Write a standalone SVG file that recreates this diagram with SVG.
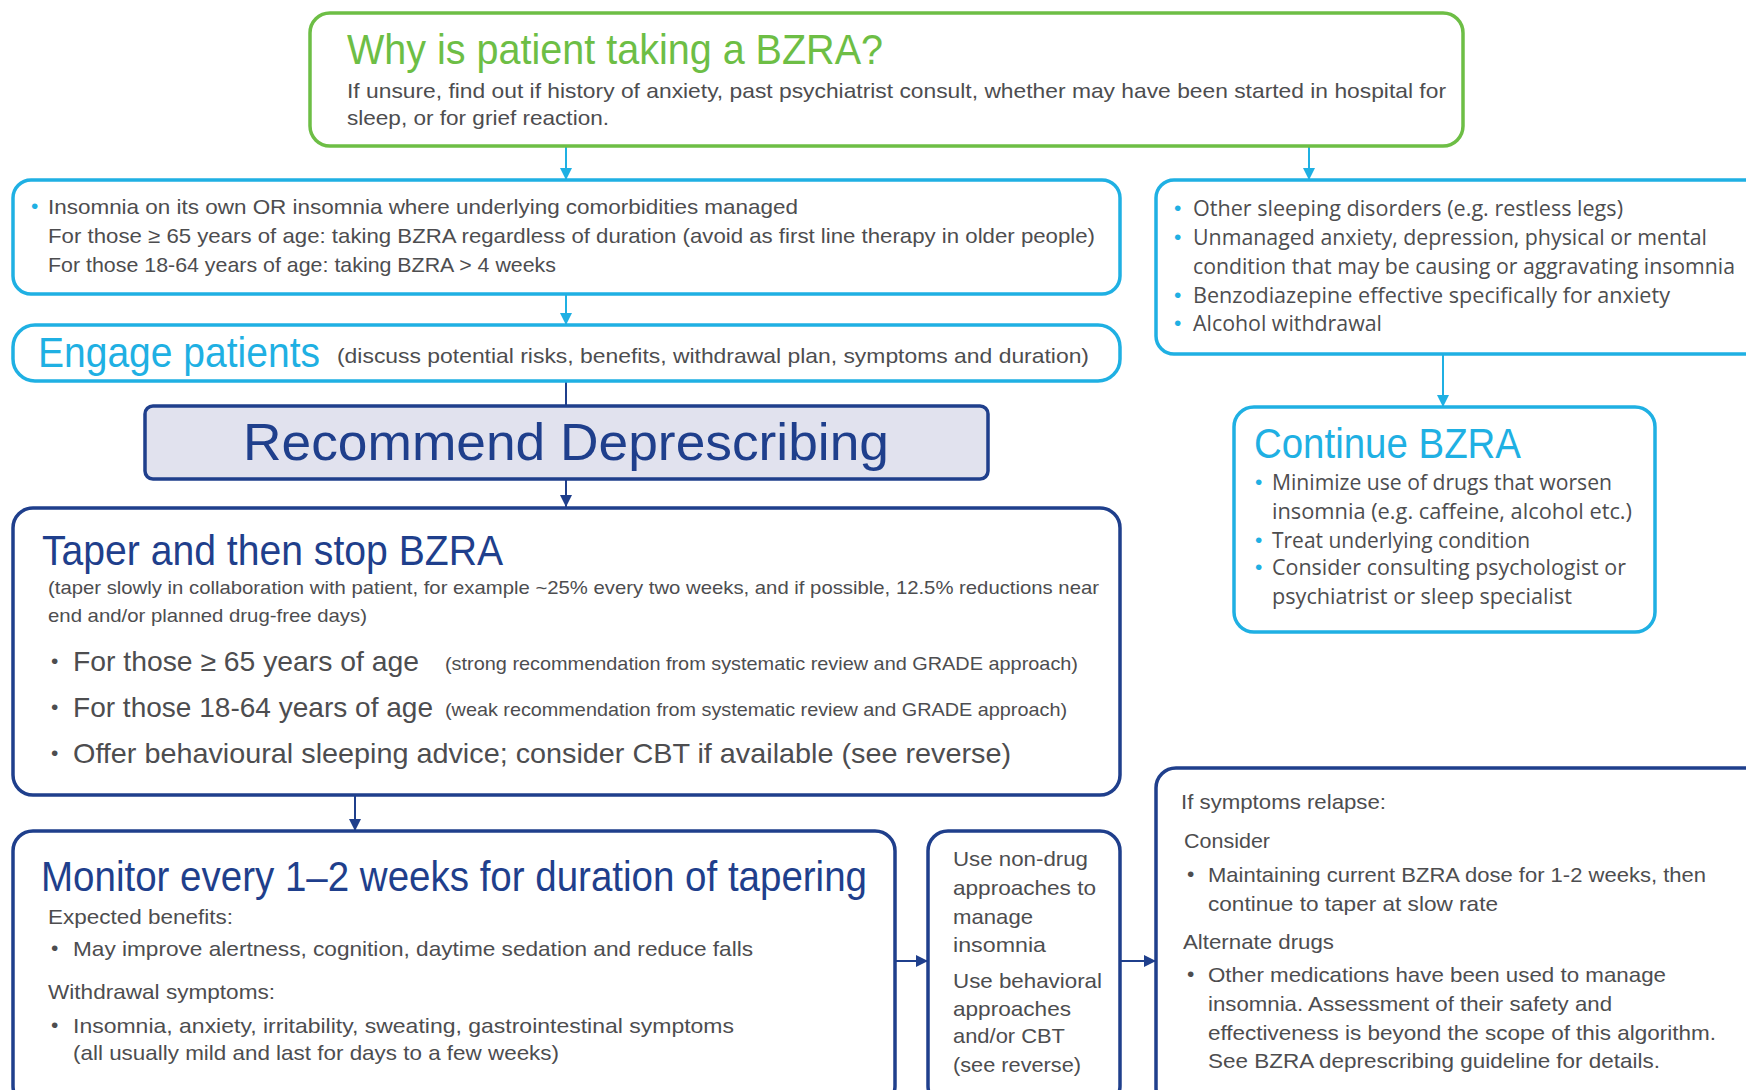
<svg xmlns="http://www.w3.org/2000/svg" width="1746" height="1090" viewBox="0 0 1746 1090">
<style>
text{font-family:"Liberation Sans","DejaVu Sans",sans-serif;}
.box{fill:#ffffff;stroke-width:3.5;}
.g{stroke:#6dbe45;}
.c{stroke:#1fb0e3;}
.n{stroke:#1f3f8c;}
.body{fill:#4d4d4f;font-size:21px;}
.small{fill:#4d4d4f;font-size:19px;}
.big{fill:#4d4d4f;font-size:28px;}
.wide{fill:#4d4d4f;font-size:21px;font-family:"Open Sans","Liberation Sans",sans-serif;}
.bc{fill:#1fb0e3;font-size:21px;}
.bg{fill:#4d4d4f;font-size:21px;}
.tg{fill:#6dbe45;font-size:42px;}
.tc{fill:#1fb0e3;font-size:42px;}
.tn{fill:#1f3f8c;font-size:42px;}
.conn{fill:none;stroke-width:2;}
</style>
<defs>
<marker id="ac" markerUnits="userSpaceOnUse" markerWidth="14" markerHeight="14" refX="12" refY="7" orient="auto">
<path d="M0,1 L12,7 L0,13 Z" fill="#1fb0e3"/>
</marker>
<marker id="an" markerUnits="userSpaceOnUse" markerWidth="14" markerHeight="14" refX="12" refY="7" orient="auto">
<path d="M0,1 L12,7 L0,13 Z" fill="#1f3f8c"/>
</marker>
</defs>
<rect width="1746" height="1090" fill="#ffffff"/>

<g id="connectors">
<line class="conn c" x1="566" y1="146" x2="566" y2="180" marker-end="url(#ac)"/>
<line class="conn c" x1="1309" y1="146" x2="1309" y2="180" marker-end="url(#ac)"/>
<line class="conn c" x1="566" y1="294" x2="566" y2="325" marker-end="url(#ac)"/>
<line class="conn n" x1="566" y1="381" x2="566" y2="406"/>
<line class="conn n" x1="566" y1="479" x2="566" y2="507" marker-end="url(#an)"/>
<line class="conn c" x1="1443" y1="354" x2="1443" y2="407" marker-end="url(#ac)"/>
<line class="conn n" x1="355" y1="795" x2="355" y2="831" marker-end="url(#an)"/>
<line class="conn n" x1="895" y1="961" x2="928" y2="961" marker-end="url(#an)"/>
<line class="conn n" x1="1120" y1="961" x2="1156" y2="961" marker-end="url(#an)"/>
</g>

<g id="why">
<rect class="box g" x="310" y="13" width="1153" height="133" rx="20"/>
<text class="tg" x="347" y="64" textLength="536" lengthAdjust="spacingAndGlyphs">Why is patient taking a BZRA?</text>
<text class="body" x="347" y="98" textLength="1099" lengthAdjust="spacingAndGlyphs">If unsure,  find out if history of anxiety, past psychiatrist consult, whether may have been started in hospital for</text>
<text class="body" x="347" y="125" textLength="262" lengthAdjust="spacingAndGlyphs">sleep, or for grief reaction.</text>
</g>

<g id="insomnia">
<rect class="box c" x="13" y="180" width="1107" height="114" rx="18"/>
<text class="bc" x="31" y="213">•</text>
<text class="body" x="48" y="214" textLength="750" lengthAdjust="spacingAndGlyphs">Insomnia on its own OR insomnia where underlying comorbidities managed</text>
<text class="body" x="48" y="243" textLength="1047" lengthAdjust="spacingAndGlyphs">For those ≥ 65 years of age: taking BZRA regardless of duration (avoid as first line therapy in older people)</text>
<text class="body" x="48" y="272" textLength="508" lengthAdjust="spacingAndGlyphs">For those 18-64 years of age: taking BZRA &gt; 4 weeks</text>
</g>

<g id="other">
<rect class="box c" x="1156" y="180" width="610" height="174" rx="18"/>
<text class="bc" x="1174" y="215">•</text>
<text class="wide" x="1193" y="216" textLength="430" lengthAdjust="spacingAndGlyphs">Other sleeping disorders (e.g. restless legs)</text>
<text class="bc" x="1174" y="244">•</text>
<text class="wide" x="1193" y="245" textLength="514" lengthAdjust="spacingAndGlyphs">Unmanaged anxiety, depression, physical or mental</text>
<text class="wide" x="1193" y="274" font-size="19" textLength="542" lengthAdjust="spacingAndGlyphs">condition that may be causing or aggravating insomnia</text>
<text class="bc" x="1174" y="302">•</text>
<text class="wide" x="1193" y="303" textLength="477" lengthAdjust="spacingAndGlyphs">Benzodiazepine effective specifically for anxiety</text>
<text class="bc" x="1174" y="330">•</text>
<text class="wide" x="1193" y="331" textLength="189" lengthAdjust="spacingAndGlyphs">Alcohol withdrawal</text>
</g>

<g id="engage">
<rect class="box c" x="13" y="325" width="1107" height="56" rx="22"/>
<text class="tc" x="38" y="367" font-size="40" textLength="282" lengthAdjust="spacingAndGlyphs">Engage patients</text>
<text class="body" x="337" y="363" textLength="752" lengthAdjust="spacingAndGlyphs">(discuss potential risks, benefits, withdrawal plan, symptoms and duration)</text>
</g>

<g id="recommend">
<rect x="145" y="406" width="843" height="73" rx="8" fill="#e1e2ee" stroke="#1f3f8c" stroke-width="3.5"/>
<text x="243" y="460" fill="#1f3f8c" font-size="52" font-family="'Noto Sans','Liberation Sans',sans-serif" textLength="646" lengthAdjust="spacingAndGlyphs">Recommend Deprescribing</text>
</g>

<g id="continue">
<rect class="box c" x="1234" y="407" width="421" height="225" rx="20"/>
<text class="tc" x="1254" y="458" font-family="'Open Sans','Liberation Sans',sans-serif" font-size="38" textLength="267" lengthAdjust="spacingAndGlyphs">Continue BZRA</text>
<text class="bc" x="1255" y="489">•</text>
<text class="wide" x="1272" y="490" textLength="340" lengthAdjust="spacingAndGlyphs">Minimize use of drugs that worsen</text>
<text class="wide" x="1272" y="519" textLength="360" lengthAdjust="spacingAndGlyphs">insomnia (e.g. caffeine, alcohol etc.)</text>
<text class="bc" x="1255" y="547">•</text>
<text class="wide" x="1272" y="548" textLength="258" lengthAdjust="spacingAndGlyphs">Treat underlying condition</text>
<text class="bc" x="1255" y="574">•</text>
<text class="wide" x="1272" y="575" textLength="354" lengthAdjust="spacingAndGlyphs">Consider consulting psychologist or</text>
<text class="wide" x="1272" y="604" textLength="300" lengthAdjust="spacingAndGlyphs">psychiatrist or sleep specialist</text>
</g>

<g id="taper">
<rect class="box n" x="13" y="508" width="1107" height="287" rx="20"/>
<text class="tn" x="42" y="565" font-size="42" textLength="461" lengthAdjust="spacingAndGlyphs">Taper and then stop BZRA</text>
<text class="small" x="48" y="594" textLength="1051" lengthAdjust="spacingAndGlyphs">(taper slowly in collaboration with patient, for example ~25% every two weeks, and if possible, 12.5% reductions near</text>
<text class="small" x="48" y="622" textLength="319" lengthAdjust="spacingAndGlyphs">end and/or planned drug-free days)</text>
<text class="bg" x="51" y="668">•</text>
<text class="big" x="73" y="671" textLength="346" lengthAdjust="spacingAndGlyphs">For those ≥ 65 years of age</text>
<text class="small" x="445" y="670" textLength="633" lengthAdjust="spacingAndGlyphs">(strong recommendation from systematic review and GRADE approach)</text>
<text class="bg" x="51" y="714">•</text>
<text class="big" x="73" y="717" textLength="360" lengthAdjust="spacingAndGlyphs">For those 18-64 years of age</text>
<text class="small" x="445" y="716" textLength="622" lengthAdjust="spacingAndGlyphs">(weak recommendation from systematic review and GRADE approach)</text>
<text class="bg" x="51" y="760">•</text>
<text class="big" x="73" y="763" textLength="938" lengthAdjust="spacingAndGlyphs">Offer behavioural sleeping advice; consider CBT if available (see reverse)</text>
</g>

<g id="monitor">
<rect class="box n" x="13" y="831" width="882" height="275" rx="20"/>
<text class="tn" x="41" y="891" textLength="826" lengthAdjust="spacingAndGlyphs">Monitor every 1–2 weeks for duration of tapering</text>
<text class="body" x="48" y="924" textLength="185" lengthAdjust="spacingAndGlyphs">Expected benefits:</text>
<text class="bg" x="51" y="955">•</text>
<text class="body" x="73" y="956" textLength="680" lengthAdjust="spacingAndGlyphs">May improve alertness, cognition, daytime sedation and reduce falls</text>
<text class="body" x="48" y="999" textLength="227" lengthAdjust="spacingAndGlyphs">Withdrawal symptoms:</text>
<text class="bg" x="51" y="1032">•</text>
<text class="body" x="73" y="1033" textLength="661" lengthAdjust="spacingAndGlyphs">Insomnia, anxiety, irritability, sweating, gastrointestinal symptoms</text>
<text class="body" x="73" y="1060" textLength="486" lengthAdjust="spacingAndGlyphs">(all usually mild and last for days to a few weeks)</text>
</g>

<g id="nondrug">
<rect class="box n" x="928" y="831" width="192" height="275" rx="20"/>
<text class="body" x="953" y="866" textLength="135" lengthAdjust="spacingAndGlyphs">Use non-drug</text>
<text class="body" x="953" y="895" textLength="143" lengthAdjust="spacingAndGlyphs">approaches to</text>
<text class="body" x="953" y="924" textLength="80" lengthAdjust="spacingAndGlyphs">manage</text>
<text class="body" x="953" y="952" textLength="93" lengthAdjust="spacingAndGlyphs">insomnia</text>
<text class="body" x="953" y="988" textLength="149" lengthAdjust="spacingAndGlyphs">Use behavioral</text>
<text class="body" x="953" y="1016" textLength="118" lengthAdjust="spacingAndGlyphs">approaches</text>
<text class="body" x="953" y="1043" textLength="112" lengthAdjust="spacingAndGlyphs">and/or CBT</text>
<text class="body" x="953" y="1072" textLength="128" lengthAdjust="spacingAndGlyphs">(see reverse)</text>
</g>

<g id="relapse">
<rect class="box n" x="1156" y="768" width="610" height="340" rx="20"/>
<text class="body" x="1181" y="809" textLength="205" lengthAdjust="spacingAndGlyphs">If symptoms relapse:</text>
<text class="body" x="1184" y="848" textLength="86" lengthAdjust="spacingAndGlyphs">Consider</text>
<text class="bg" x="1187" y="881">•</text>
<text class="body" x="1208" y="882" textLength="498" lengthAdjust="spacingAndGlyphs">Maintaining current BZRA dose for 1-2 weeks, then</text>
<text class="body" x="1208" y="911" textLength="290" lengthAdjust="spacingAndGlyphs">continue to taper at slow rate</text>
<text class="body" x="1183" y="949" textLength="151" lengthAdjust="spacingAndGlyphs">Alternate drugs</text>
<text class="bg" x="1187" y="981">•</text>
<text class="body" x="1208" y="982" textLength="458" lengthAdjust="spacingAndGlyphs">Other medications have been used to manage</text>
<text class="body" x="1208" y="1011" textLength="404" lengthAdjust="spacingAndGlyphs">insomnia. Assessment of their safety and</text>
<text class="body" x="1208" y="1040" textLength="508" lengthAdjust="spacingAndGlyphs">effectiveness is beyond the scope of this algorithm.</text>
<text class="body" x="1208" y="1068" textLength="452" lengthAdjust="spacingAndGlyphs">See BZRA deprescribing  guideline for details.</text>
</g>
</svg>
